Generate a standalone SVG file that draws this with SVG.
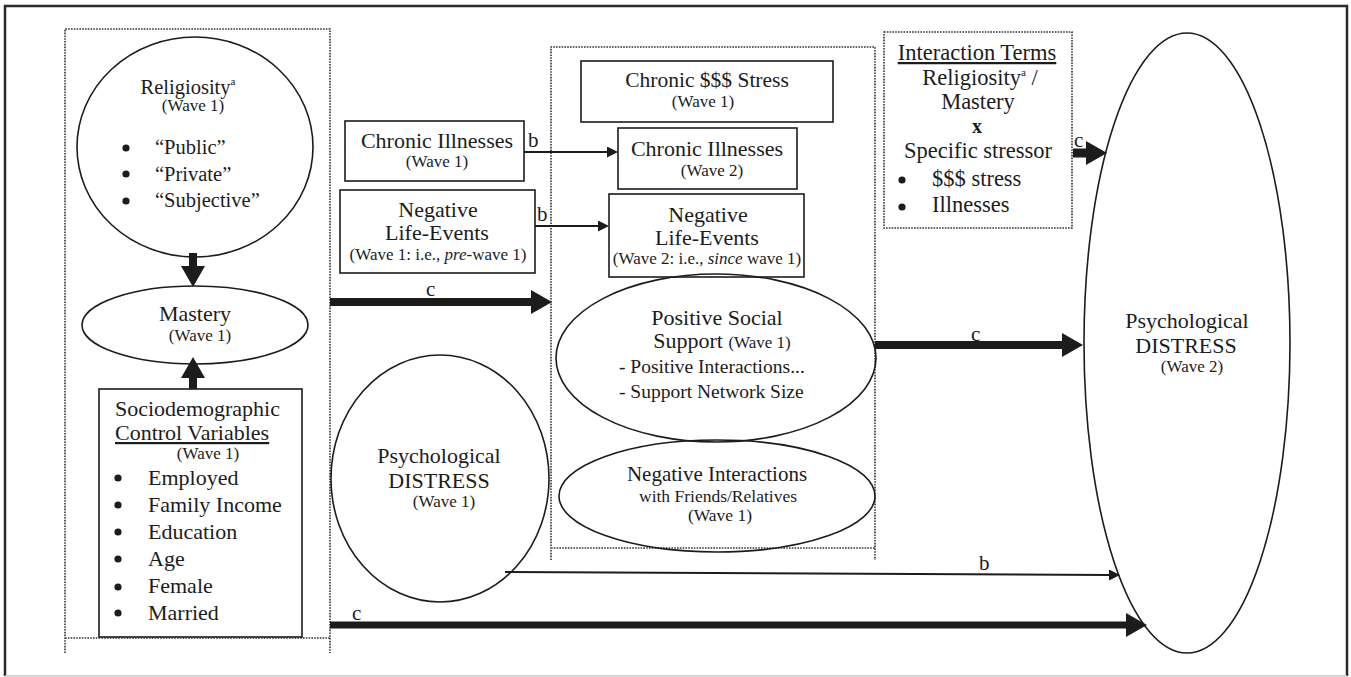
<svg xmlns="http://www.w3.org/2000/svg" width="1351" height="677" viewBox="0 0 1351 677">
<style>
text{font-family:"Liberation Serif","Times New Roman",serif;fill:#1c1c1c}
.t{font-size:22px}
.w{font-size:17px}
.m{text-anchor:middle}
.sh{fill:none;stroke:#1c1c1c;stroke-width:1.6}
.dot{fill:none;stroke:#333;stroke-width:1.6;stroke-dasharray:1.6 1.2}
.thick{stroke:#1c1c1c;stroke-width:8;fill:none}
.thin{stroke:#1c1c1c;stroke-width:2;fill:none}
.bul{fill:#1c1c1c}
</style>
<defs>
<marker id="ah" markerUnits="userSpaceOnUse" markerWidth="22" markerHeight="24" refX="0" refY="12" orient="auto">
<path d="M0,0 L21,12 L0,24 z" fill="#1c1c1c"/>
</marker>
<marker id="as" markerUnits="userSpaceOnUse" markerWidth="12" markerHeight="12" refX="0" refY="5.5" orient="auto">
<path d="M0,0 L11,5.5 L0,11 z" fill="#1c1c1c"/>
</marker>
</defs>
<rect width="1351" height="677" fill="#fff"/>
<!-- frame -->
<path d="M5,676 V6 H1347 V676" fill="none" stroke="#2b2b2b" stroke-width="2.5"/>
<path d="M5,676 H1347" fill="none" stroke="#c8c8c8" stroke-width="1.5"/>

<!-- group boxes -->
<g id="group-left"><path class="dot" d="M65,653 V29 H330 V653 M65,638 H330"/></g>
<g id="group-middle"><path class="dot" d="M551,560 V47 H875 V560 M551,548 H875"/></g>

<g id="religiosity">
<ellipse class="sh" cx="195" cy="147" rx="118" ry="110"/>
<text class="t m" x="188" y="94" style="font-size:20.5px">Religiosity<tspan font-size="11" dy="-9">a</tspan></text>
<text class="w m" x="193" y="111">(Wave 1)</text>
<circle class="bul" cx="126" cy="148" r="3.6"/>
<circle class="bul" cx="126" cy="174" r="3.6"/>
<circle class="bul" cx="126" cy="201" r="3.6"/>
<text class="t" x="155" y="154" style="font-size:20.5px">“Public”</text>
<text class="t" x="155" y="181" style="font-size:20.5px">“Private”</text>
<text class="t" x="155" y="207" style="font-size:20.5px">“Subjective”</text>
</g>

<g id="mastery">
<ellipse class="sh" cx="195" cy="325" rx="113" ry="39"/>
<text class="t m" x="195" y="321">Mastery</text>
<text class="w m" x="200" y="341">(Wave 1)</text>
</g>

<g id="sociodemographic">
<rect class="sh" x="99" y="389" width="203" height="248"/>
<text class="t" x="115" y="416">Sociodemographic</text>
<text class="t" x="115" y="440" text-decoration="underline">Control Variables</text>
<text class="w m" x="208" y="459">(Wave 1)</text>
<circle class="bul" cx="118" cy="478" r="3.6"/>
<circle class="bul" cx="118" cy="505" r="3.6"/>
<circle class="bul" cx="118" cy="532" r="3.6"/>
<circle class="bul" cx="118" cy="559" r="3.6"/>
<circle class="bul" cx="118" cy="587" r="3.6"/>
<circle class="bul" cx="118" cy="613" r="3.6"/>
<text class="t" x="148" y="485">Employed</text>
<text class="t" x="148" y="512">Family Income</text>
<text class="t" x="148" y="539">Education</text>
<text class="t" x="148" y="566">Age</text>
<text class="t" x="148" y="593">Female</text>
<text class="t" x="148" y="620">Married</text>
</g>

<g id="chronic-illnesses-w1">
<rect class="sh" x="345" y="121" width="179" height="60"/>
<text class="t m" x="437" y="148">Chronic Illnesses</text>
<text class="w m" x="437" y="167">(Wave 1)</text>
</g>

<g id="life-events-w1">
<rect class="sh" x="340" y="190" width="195" height="83"/>
<text class="t m" x="438" y="217">Negative</text>
<text class="t m" x="437" y="240">Life-Events</text>
<text class="w m" x="438" y="260">(Wave 1: i.e., <tspan font-style="italic">pre</tspan>-wave 1)</text>
</g>

<g id="distress-w1">
<ellipse class="sh" cx="440" cy="478.5" rx="109" ry="123.5"/>
<text class="t m" x="439" y="463">Psychological</text>
<text class="t m" x="439" y="488">DISTRESS</text>
<text class="w m" x="444" y="507">(Wave 1)</text>
</g>

<g id="money-stress-w1">
<rect class="sh" x="581" y="61" width="252" height="61"/>
<text class="t m" x="707" y="87" style="font-size:21.5px">Chronic $$$ Stress</text>
<text class="w m" x="703" y="107">(Wave 1)</text>
</g>

<g id="chronic-illnesses-w2">
<rect class="sh" x="618" y="128" width="179" height="61"/>
<text class="t m" x="707" y="156">Chronic Illnesses</text>
<text class="w m" x="712" y="176">(Wave 2)</text>
</g>

<g id="life-events-w2">
<rect class="sh" x="609" y="194" width="195" height="83"/>
<text class="t m" x="708" y="222">Negative</text>
<text class="t m" x="707" y="245">Life-Events</text>
<text class="w m" x="707" y="264">(Wave 2: i.e., <tspan font-style="italic">since</tspan> wave 1)</text>
</g>

<g id="positive-support">
<ellipse class="sh" cx="716" cy="358" rx="160" ry="84"/>
<text class="t m" x="717" y="325">Positive Social</text>
<text class="t m" x="722" y="348">Support <tspan font-size="17">(Wave 1)</tspan></text>
<text class="t" x="619" y="373" style="font-size:19.5px">- Positive Interactions...</text>
<text class="t" x="619" y="398" style="font-size:19.5px">- Support Network Size</text>
</g>

<g id="negative-interactions">
<ellipse class="sh" cx="717" cy="496" rx="158" ry="56"/>
<text class="t m" x="717" y="481" style="font-size:21px">Negative Interactions</text>
<text class="w m" x="718" y="502" style="font-size:17.5px">with Friends/Relatives</text>
<text class="w m" x="720" y="521" style="font-size:17.5px">(Wave 1)</text>
</g>

<g id="interaction-terms">
<rect class="dot" x="884" y="32" width="188" height="196"/>
<text class="t m" x="977" y="60" style="font-size:22.5px" text-decoration="underline">Interaction Terms</text>
<text class="t m" x="980" y="85" style="font-size:22.5px">Religiosity<tspan font-size="11" dy="-9">a</tspan><tspan dy="9"> /</tspan></text>
<text class="t m" x="978" y="109" style="font-size:22.5px">Mastery</text>
<text class="t m" x="977" y="133" font-weight="bold" style="font-size:20px">x</text>
<text class="t m" x="978" y="158" style="font-size:22.5px">Specific stressor</text>
<circle class="bul" cx="902" cy="180" r="3.6"/>
<circle class="bul" cx="902" cy="207" r="3.6"/>
<text class="t" x="932" y="186" style="font-size:22.5px">$$$ stress</text>
<text class="t" x="932" y="212" style="font-size:22.5px">Illnesses</text>
</g>

<g id="distress-w2">
<ellipse class="sh" cx="1187" cy="343" rx="103" ry="310"/>
<text class="t m" x="1187" y="328">Psychological</text>
<text class="t m" x="1186" y="353">DISTRESS</text>
<text class="w m" x="1192" y="372">(Wave 2)</text>
</g>

<g id="connectors">
<line class="thick" x1="193" y1="253" x2="193" y2="266" marker-end="url(#ah)"/>
<line class="thick" x1="193" y1="389" x2="193" y2="378" marker-end="url(#ah)"/>
<line class="thick" x1="330" y1="302" x2="531" y2="302" marker-end="url(#ah)"/>
<text class="t" x="426" y="296" style="font-size:21px">c</text>
<line class="thin" x1="524" y1="152" x2="607" y2="152" marker-end="url(#as)"/>
<text class="t" x="528" y="147" style="font-size:21px">b</text>
<line class="thin" x1="535" y1="226" x2="598" y2="226" marker-end="url(#as)"/>
<text class="t" x="537" y="221" style="font-size:21px">b</text>
<line class="thick" x1="875" y1="345" x2="1062" y2="345" marker-end="url(#ah)"/>
<text class="t" x="971" y="341" style="font-size:21px">c</text>
<line class="thick" x1="1073" y1="153" x2="1086" y2="153" style="stroke-width:9" marker-end="url(#ah)"/>
<text class="t" x="1074" y="147" style="font-size:21px">c</text>
<line class="thin" x1="505" y1="572" x2="1109" y2="575" marker-end="url(#as)"/>
<text class="t" x="979" y="570" style="font-size:21px">b</text>
<line class="thick" x1="330" y1="625" x2="1126" y2="625" style="stroke-width:7" marker-end="url(#ah)"/>
<text class="t" x="352" y="620" style="font-size:21px">c</text>
</g>
</svg>
